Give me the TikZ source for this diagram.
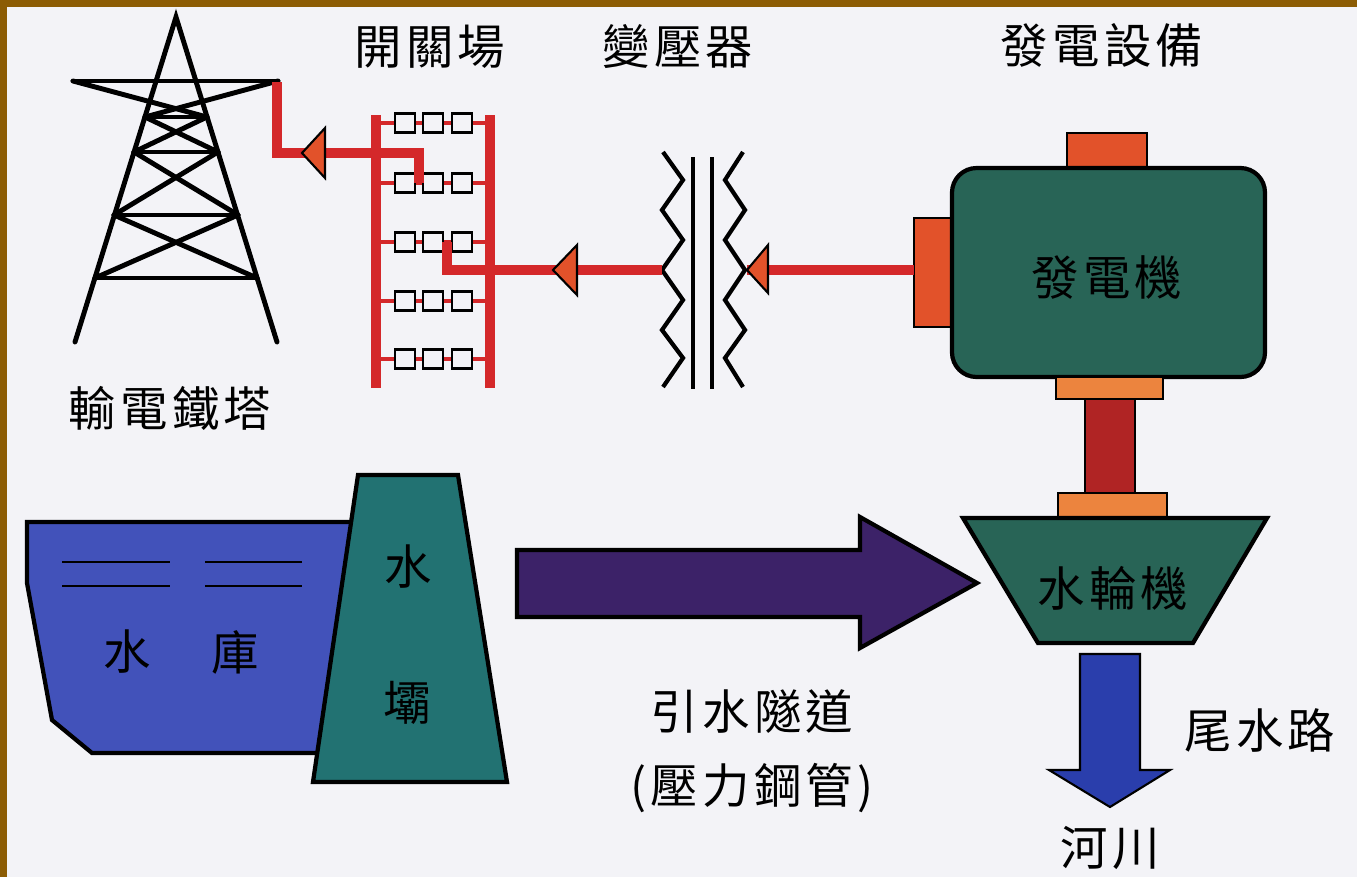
\documentclass[tikz,border=0pt]{standalone}
\usepackage{fontspec}
\newfontfamily\cjk[LetterSpace=9]{Noto Sans CJK TC}
\usepackage{xcolor}
\usetikzlibrary{positioning,calc}

\definecolor{paper}{RGB}{243,243,247}
\definecolor{frame}{RGB}{140,92,4}
\definecolor{busred}{RGB}{212,40,42}
\definecolor{tipred}{RGB}{226,82,42}
\definecolor{machine}{RGB}{40,100,86}
\definecolor{damteal}{RGB}{34,114,114}
\definecolor{lightorange}{RGB}{236,132,62}
\definecolor{shaftred}{RGB}{176,36,36}
\definecolor{lake}{RGB}{66,82,186}
\definecolor{tunnel}{RGB}{60,34,104}
\definecolor{tail}{RGB}{42,62,172}

\begin{document}
\begin{tikzpicture}[x=0.02cm,y=-0.02cm]
	\tikzstyle{every node}+=[inner sep=0pt,font=\cjk\fontsize{27}{27}\selectfont]
	\tikzstyle{tower}=[black,line width=2.8pt,line cap=round]
	\tikzstyle{bus}=[busred,line width=5.6pt]
	\tikzstyle{feeder}=[busred,line width=2.6pt]
	\tikzstyle{swbox}=[draw=black,fill=paper,line width=1.6pt]
	\tikzstyle{tip}=[draw=black,fill=tipred,line width=1.2pt,line join=miter]
	\tikzstyle{coil}=[black,line width=2.4pt]
	\tikzstyle{part}=[draw=black,line width=1.2pt]
	\tikzstyle{body}=[draw=black,line width=2.4pt]

	% paper and frame
	\fill[paper] (0,0) rectangle (1357,877);
	\fill[frame] (0,0) rectangle (1357,7);
	\fill[frame] (0,0) rectangle (7,877);
	\useasboundingbox (0,0) rectangle (1357,877);

	% transmission tower
	\draw[tower] (75,342) -- (176,17) -- (277,342);
	\draw[tower] (73,81) -- (278,81);
	\draw[tower] (73,81) -- (207,117);
	\draw[tower] (278,81) -- (145,117);
	\draw[tower] (145,117) -- (207,117);
	\draw[tower] (134,152) -- (218,152);
	\draw[tower] (114,215) -- (238,215);
	\draw[tower] (95,278) -- (257,278);
	\draw[tower] (145,117) -- (218,152);
	\draw[tower] (207,117) -- (134,152);
	\draw[tower] (134,152) -- (238,215);
	\draw[tower] (218,152) -- (114,215);
	\draw[tower] (114,215) -- (257,278);
	\draw[tower] (238,215) -- (95,278);
	\node (towerlabel) at (170,408) {輸電鐵塔};

	% switchyard
	\draw[bus] (376,115) -- (376,388);
	\draw[bus] (490,115) -- (490,388);
	\foreach \y in {123,183,242,301,359} {
		\draw[feeder] (376,\y) -- (490,\y);
		\foreach \x in {405,433,462}
			\draw[swbox] (\x-10,\y-9.5) rectangle (\x+10,\y+9.5);
	}
	\node (yardlabel) at (430,47) {開關場};

	% transformer
	\draw[coil] (663,152) -- (683,180) -- (662,210) -- (683,240) -- (662,270) -- (683,300) -- (662,330) -- (683,358) -- (663,387);
	\draw[coil] (743,152) -- (725,180) -- (745,210) -- (725,240) -- (745,270) -- (725,300) -- (745,330) -- (725,358) -- (743,387);
	\draw[coil] (693,157) -- (693,389);
	\draw[coil] (712,157) -- (712,389);
	\node (xfmrlabel) at (678,47) {變壓器};

	% generator set
	\filldraw[part,fill=tipred] (1067,133) rectangle (1147,168);
	\filldraw[part,fill=tipred] (914,218) rectangle (952,327);
	\filldraw[body,fill=machine,rounded corners=14pt] (952,168) rectangle (1265,377);
	\node (genlabel) at (1107,278) {發電機};
	\filldraw[part,fill=lightorange] (1056,377) rectangle (1163,399);
	\filldraw[part,fill=shaftred] (1085,399) rectangle (1135,493);
	\filldraw[part,fill=lightorange] (1058,493) rectangle (1167,518);
	\filldraw[body,fill=machine] (963,518) -- (1267,518) -- (1193,643) -- (1038,643) -- cycle;
	\node (turbinelabel) at (1113,588) {水輪機};
	\node (plantlabel) at (1102,45) {發電設備};

	% power flow
	\coordinate (armtip) at (277,82);
	\coordinate (tipA) at (302,153);
	\coordinate (joinA) at (419,183);
	\coordinate (coilL) at (662,270);
	\coordinate (tipB) at (553,270);
	\coordinate (joinB) at (447,242);
	\coordinate (genport) at (914,270);
	\coordinate (tipC) at (747,270);
	\draw[bus] (armtip) |- (tipA);
	\draw[bus] (tipA) -| (joinA);
	\draw[bus] (coilL) -- (tipB);
	\draw[bus] (tipB) -| (joinB);
	\draw[bus] (genport) -- (tipC);
	\filldraw[tip] (tipA) -- ++(23,-25) -- ++(0,50) -- cycle;
	\filldraw[tip] (tipB) -- ++(24,-25) -- ++(0,50) -- cycle;
	\filldraw[tip] (tipC) -- ++(21,-25) -- ++(0,48) -- cycle;

	% reservoir and dam
	\filldraw[body,fill=lake] (27,522) -- (362,522) -- (325,753) -- (92,753) -- (52,720) -- (27,583) -- cycle;
	\draw[black,line width=1.3pt] (62,562) -- (170,562);
	\draw[black,line width=1.3pt] (62,586) -- (170,586);
	\draw[black,line width=1.3pt] (205,562) -- (302,562);
	\draw[black,line width=1.3pt] (205,586) -- (302,586);
	\node (lakeA) at (127,652) {水};
	\node (lakeB) at (235,652) {庫};
	\filldraw[body,fill=damteal] (358,475) -- (458,475) -- (507,782) -- (313,782) -- cycle;
	\node (damA) at (408,567) {水};
	\node (damB) at (407,703) {壩};

	% headrace and tailrace
	\filldraw[body,fill=tunnel] (517,550) -- (860,550) -- (860,517) -- (977,583) -- (860,648) -- (860,617) -- (517,617) -- cycle;
	\node (tunnellabel) at (752,712) {引水隧道};
	\node (penstocklabel) at (752,788) {(壓力鋼管)};
	\filldraw[part,fill=tail] (1080,654) -- (1140,654) -- (1140,770) -- (1170,770) -- (1110,807) -- (1049,770) -- (1080,770) -- cycle;
	\node (taillabel) at (1260,730) {尾水路};
	\node (riverlabel) at (1110,848) {河川};
\end{tikzpicture}
\end{document}
